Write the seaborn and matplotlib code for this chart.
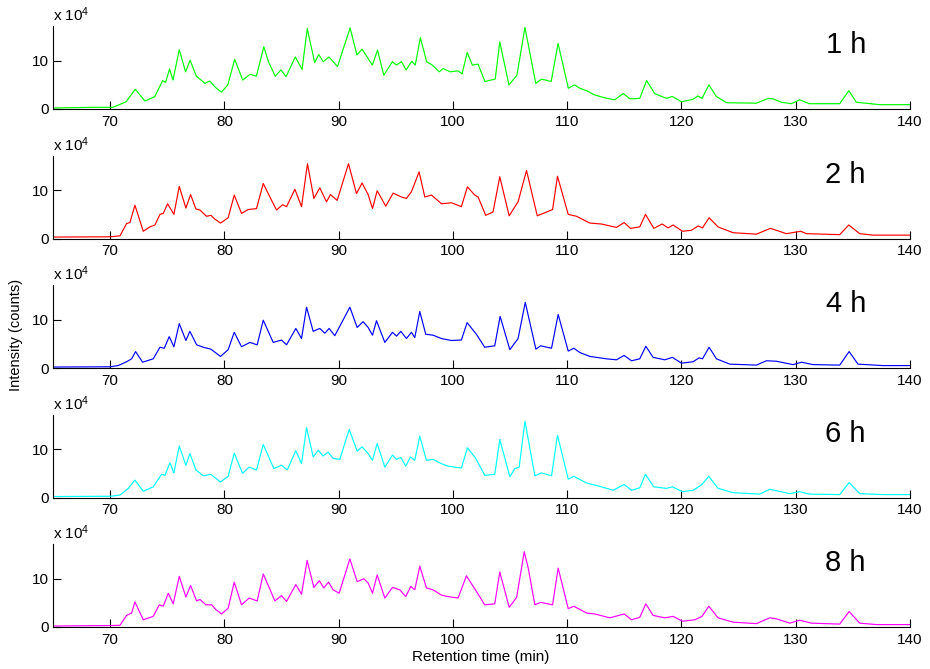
"""Stacked chromatograms (base peak intensity vs retention time) for five digestion times."""
import matplotlib
matplotlib.use("Agg")
import matplotlib.pyplot as plt
import pandas as pd
import seaborn as sns

# intensity values are in units of 1e4 counts
T_1H = [65, 68.5, 70.25, 71.4, 72.2, 73.05, 73.9, 74.6, 74.85, 75.2, 75.5, 76.05, 76.6, 77.0,
        77.55, 78.3, 78.7, 79.3, 79.75, 80.3, 80.9, 81.6, 82.25, 82.8, 83.45, 83.85, 84.45,
        84.95, 85.4, 86.2, 86.8, 87.25, 87.9, 88.25, 88.65, 89.15, 89.9, 91.0, 91.6, 92.05,
        92.95, 93.4, 93.95, 94.7, 95.05, 95.5, 95.9, 96.4, 96.7, 97.15, 97.7, 98.2, 98.8, 99.15,
        99.75, 100.45, 100.8, 101.25, 101.7, 102.2, 102.8, 103.7, 104.1, 104.9, 105.6, 106.3,
        107.25, 107.75, 108.6, 109.2, 110.1, 110.65, 111.1, 111.8, 112.3, 113.3, 114.15, 114.9,
        115.5, 116.35, 116.95, 117.65, 118.7, 119.2, 120.0, 121.0, 121.45, 121.8, 122.4, 123.05,
        123.95, 126.55, 127.6, 128.0, 128.75, 129.6, 130.35, 131.2, 133.85, 134.65, 135.3,
        137.35, 140]
I_1H = [0.2, 0.35, 0.35, 1.5, 4.1, 1.65, 2.55, 5.9, 5.5, 8.3, 6.0, 12.3, 7.7, 10.1,
        6.8, 5.3, 5.8, 4.3, 3.5, 5.0, 10.3, 6.0, 7.2, 6.8, 12.9, 9.8, 6.8,
        8.1, 6.7, 10.8, 8.2, 16.7, 9.6, 11.3, 9.8, 10.8, 8.8, 16.8, 11.2, 12.4,
        9.1, 12.2, 7.0, 9.8, 9.1, 9.8, 8.1, 9.9, 9.1, 14.8, 9.8, 9.1, 7.7, 8.4,
        7.7, 7.9, 7.3, 11.7, 9.1, 9.3, 5.7, 6.2, 13.9, 5.0, 7.0, 16.9,
        5.3, 6.2, 5.7, 13.6, 4.3, 5.0, 4.3, 3.7, 3.0, 2.3, 1.9, 3.2,
        2.1, 2.2, 5.9, 3.2, 2.2, 2.6, 1.5, 2.0, 2.7, 2.2, 5.0, 2.6,
        1.3, 1.2, 2.2, 2.1, 1.4, 1.1, 1.9, 1.1, 1.1, 3.8, 1.4,
        0.9, 0.9]

T_2H = [65, 70.0, 70.86, 71.44, 71.73, 72.17, 72.9, 73.48, 73.92, 74.36, 74.65, 75.03, 75.58,
        76.05, 76.63, 77.04, 77.51, 77.86, 78.44, 78.82, 79.17, 79.66, 80.33, 80.86, 81.5,
        82.08, 82.81, 83.4, 83.98, 84.56, 85.09, 85.44, 86.17, 86.75, 87.27, 87.83, 88.35,
        88.93, 89.28, 89.87, 90.86, 91.56, 92.05, 92.58, 92.96, 93.37, 94.12, 94.77, 95.5,
        95.93, 96.37, 97.04, 97.54, 98.12, 99.0, 99.87, 100.74, 101.27, 101.91, 102.2, 102.87,
        103.51, 104.1, 104.92, 105.7, 106.44, 107.38, 107.9, 108.72, 109.15, 110.09, 110.82,
        111.98, 113.0, 114.31, 114.98, 115.54, 116.35, 116.85, 117.58, 118.31, 118.83, 119.27,
        120.09, 120.87, 121.46, 121.84, 122.42, 123.2, 124.52, 126.56, 127.78, 128.31, 129.18,
        130.44, 130.93, 133.85, 134.64, 135.6, 136.76, 140]
I_2H = [0.3, 0.35, 0.55, 3.1, 3.3, 6.9, 1.5, 2.4, 2.8, 5.0, 5.2, 7.2, 5.0,
        10.8, 6.3, 9.1, 6.1, 5.9, 4.6, 4.8, 4.0, 3.2, 4.3, 9.0, 5.2,
        6.0, 6.2, 11.4, 8.6, 5.9, 7.0, 6.6, 10.2, 6.6, 15.5, 8.3, 10.5,
        7.6, 9.1, 7.9, 15.5, 9.3, 11.5, 9.1, 6.2, 9.9, 6.7, 9.4, 8.6,
        8.3, 9.7, 13.8, 8.6, 9.0, 7.2, 7.4, 6.6, 10.7, 9.0, 8.6, 4.8,
        5.5, 12.8, 4.7, 7.6, 14.1, 4.7, 5.2, 6.0, 12.9, 5.0, 4.6,
        3.2, 3.0, 2.3, 3.3, 2.1, 2.4, 5.0, 2.1, 3.0, 2.2, 2.8,
        1.5, 1.7, 2.6, 2.2, 4.3, 2.4, 1.2, 0.9, 2.1, 1.7, 1.0,
        1.5, 1.0, 0.8, 2.8, 1.0, 0.7, 0.7]

T_4H = [65, 70.0, 70.7, 71.44, 71.88, 72.23, 72.84, 73.77, 74.36, 74.74, 75.17, 75.58, 76.05,
        76.63, 76.98, 77.57, 78.15, 78.82, 79.66, 80.33, 80.86, 81.5, 82.23, 82.87, 83.4,
        84.27, 85.0, 85.44, 86.25, 86.75, 87.19, 87.77, 88.35, 88.79, 89.17, 89.66, 90.98,
        91.62, 92.14, 92.58, 92.96, 93.31, 94.04, 94.71, 95.06, 95.44, 95.93, 96.37, 96.66,
        97.1, 97.62, 98.26, 99.0, 99.87, 100.74, 101.24, 102.05, 102.78, 103.66, 104.13,
        104.98, 105.7, 106.33, 107.26, 107.67, 108.63, 109.21, 110.09, 110.58, 111.11, 111.98,
        113.44, 114.31, 114.98, 115.63, 116.35, 116.88, 117.52, 118.54, 119.21, 120.0, 121.02,
        121.54, 121.84, 122.42, 123.06, 124.23, 126.56, 127.43, 128.31, 129.77, 130.5, 131.52,
        133.85, 134.67, 135.45, 137.64, 140]
I_4H = [0.2, 0.25, 0.5, 1.3, 1.9, 3.4, 1.2, 1.9, 4.3, 4.1, 6.5, 4.4, 9.2,
        5.7, 7.6, 4.8, 4.3, 3.9, 2.4, 3.8, 7.4, 4.4, 5.3, 4.8, 9.9,
        5.3, 5.8, 4.8, 8.2, 6.1, 12.6, 7.6, 8.2, 7.2, 8.2, 6.7, 12.6,
        8.4, 9.6, 8.4, 6.8, 9.8, 5.3, 7.4, 6.6, 7.6, 6.1, 7.4, 6.3,
        11.7, 7.0, 6.8, 6.1, 5.7, 5.8, 9.4, 7.0, 4.3, 4.6, 10.7,
        3.8, 6.1, 13.6, 3.9, 4.6, 4.1, 11.1, 3.5, 4.1, 3.2, 2.4,
        1.9, 1.7, 2.6, 1.5, 1.9, 4.5, 2.2, 1.7, 2.2, 1.0, 1.3,
        2.1, 1.9, 4.3, 1.9, 0.8, 0.6, 1.5, 1.4, 0.7, 1.2, 0.7,
        0.6, 3.4, 0.8, 0.5, 0.5]

T_6H = [65, 70.0, 70.86, 71.59, 72.17, 72.9, 73.77, 74.5, 74.8, 75.23, 75.58, 76.05, 76.63,
        76.98, 77.51, 78.15, 78.82, 79.17, 79.66, 80.33, 80.86, 81.59, 82.17, 82.81, 83.4,
        84.33, 85.0, 85.5, 86.25, 86.75, 87.19, 87.77, 88.21, 88.64, 89.08, 89.52, 90.1,
        90.92, 91.62, 92.05, 92.58, 92.96, 93.37, 94.04, 94.71, 95.06, 95.44, 95.87, 96.28,
        96.66, 97.1, 97.68, 98.26, 99.0, 99.58, 100.74, 101.27, 102.0, 102.78, 103.66, 104.1,
        104.98, 105.42, 105.8, 106.3, 107.17, 107.75, 108.63, 109.15, 110.09, 110.58, 111.69,
        112.86, 114.02, 114.98, 115.63, 116.35, 116.85, 117.58, 118.69, 119.21, 120.09, 121.02,
        121.75, 122.39, 123.2, 124.52, 126.85, 127.72, 128.31, 129.47, 130.35, 131.2, 133.85,
        134.67, 135.6, 137.64, 140]
I_6H = [0.2, 0.25, 0.5, 1.9, 3.6, 1.3, 2.2, 4.8, 4.6, 7.2, 5.1, 10.7, 6.7,
        9.1, 5.7, 4.5, 4.8, 4.1, 3.2, 4.4, 9.2, 5.0, 6.3, 5.7, 11.0,
        6.0, 6.7, 5.7, 9.7, 7.0, 14.5, 8.4, 9.8, 8.6, 9.4, 8.1, 7.9,
        14.1, 9.6, 10.5, 9.1, 7.7, 11.2, 6.3, 8.8, 7.9, 8.3, 6.5, 8.4,
        7.7, 12.7, 7.7, 7.9, 7.0, 6.5, 6.1, 10.3, 8.1, 4.6, 4.8, 12.0,
        4.3, 6.0, 6.3, 15.8, 4.5, 5.1, 4.5, 12.9, 3.8, 4.4, 3.0,
        2.3, 1.5, 2.7, 1.5, 2.0, 4.8, 2.2, 1.9, 2.2, 1.2, 1.5,
        2.6, 4.4, 1.9, 1.0, 0.7, 1.7, 1.4, 0.8, 1.2, 0.7, 0.6,
        3.1, 0.8, 0.6, 0.6]

T_8H = [65, 70.0, 70.86, 71.44, 71.88, 72.17, 72.9, 73.77, 74.3, 74.65, 75.09, 75.52, 76.05,
        76.63, 77.04, 77.57, 77.86, 78.38, 78.88, 79.26, 79.75, 80.33, 80.86, 81.5, 82.17,
        82.87, 83.4, 84.42, 85.0, 85.44, 86.25, 86.75, 87.24, 87.83, 88.3, 88.7, 89.11, 89.52,
        90.04, 90.98, 91.62, 92.2, 92.58, 92.96, 93.37, 94.04, 94.71, 95.35, 95.87, 96.31,
        96.66, 97.1, 97.68, 98.26, 99.0, 99.58, 100.45, 101.18, 102.05, 102.78, 103.66, 104.1,
        104.92, 105.57, 106.24, 106.59, 107.17, 107.67, 108.72, 109.21, 110.09, 110.58, 111.69,
        112.42, 113.73, 114.98, 115.63, 116.35, 116.88, 117.52, 118.54, 119.27, 120.09, 121.17,
        121.8, 122.39, 123.2, 124.52, 126.56, 127.72, 128.31, 129.47, 130.35, 131.37, 133.85,
        134.67, 135.6, 137.06, 140]
I_8H = [0.2, 0.3, 0.35, 2.4, 2.9, 5.2, 1.5, 2.2, 4.6, 4.3, 7.0, 4.8, 10.5,
        6.2, 8.6, 5.4, 5.7, 4.6, 4.6, 3.6, 2.7, 3.9, 9.3, 4.6, 6.0,
        5.4, 11.0, 5.4, 6.5, 5.3, 8.8, 6.8, 13.8, 8.2, 9.6, 8.1, 9.3, 7.7,
        7.0, 14.1, 9.4, 10.0, 9.1, 7.0, 10.8, 6.0, 8.2, 7.7, 6.3, 8.4,
        7.7, 12.6, 8.1, 7.7, 6.6, 6.3, 6.0, 10.6, 7.4, 4.6, 4.8, 11.4,
        4.1, 6.1, 15.6, 12.2, 4.6, 5.1, 4.6, 12.2, 3.8, 4.3, 2.9,
        2.7, 1.9, 2.7, 1.5, 2.0, 4.8, 2.4, 1.9, 2.2, 1.2, 1.5,
        2.2, 4.3, 1.9, 1.0, 0.7, 1.9, 1.7, 0.8, 1.4, 0.8, 0.6,
        3.2, 0.8, 0.5, 0.5]

LABELS = ["1 h", "2 h", "4 h", "6 h", "8 h"]
COLORS = ["#00ff00", "#ff0000", "#0000ff", "#00ffff", "#ff00ff"]
X_TICKS = [70, 80, 90, 100, 110, 120, 130, 140]
Y_TICKS = [0, 10]

sns.set_style("ticks")
plt.rcParams["font.family"] = ["Liberation Sans", "DejaVu Sans"]
plt.rcParams["mathtext.default"] = "regular"
plt.rcParams["text.color"] = "black"
plt.rcParams["xtick.color"] = "black"
plt.rcParams["ytick.color"] = "black"

traces = [(T_1H, I_1H), (T_2H, I_2H), (T_4H, I_4H), (T_6H, I_6H), (T_8H, I_8H)]

fig = plt.figure(figsize=(9.3, 6.69), dpi=100)
W, H = 930, 669
for i, ((t, inten), label, color) in enumerate(zip(traces, LABELS, COLORS)):
    zero_px = 109 + 129.5 * i
    ax = fig.add_axes([53 / W, 1 - zero_px / H, 857 / W, 83 / H])
    df = pd.DataFrame({"time": t, "intensity": inten})
    sns.lineplot(data=df, x="time", y="intensity", color=color, lw=0.85,
                 estimator=None, sort=False, ax=ax)
    ax.set_xlim(65, 140)
    ax.set_ylim(0, 17.2)
    ax.set_xticks(X_TICKS)
    ax.set_yticks(Y_TICKS)
    ax.tick_params(direction="in", length=6, width=0.8, labelsize=11,
                   color="black", labelcolor="black")
    ax.tick_params(axis="x", pad=4)
    ax.tick_params(axis="y", pad=3)
    ax.set_xlabel("")
    ax.set_ylabel("")
    for side in ["top", "right"]:
        ax.spines[side].set_visible(False)
    for side in ["left", "bottom"]:
        ax.spines[side].set_color("black")
        ax.spines[side].set_linewidth(0.8)
    ax.text(0.0, 1.02, "x 10$^4$", transform=ax.transAxes, fontsize=11,
            ha="left", va="bottom", color="black")
    ax.text(0.925, 0.77, label, transform=ax.transAxes, fontsize=21,
            ha="center", va="center", color="black")

fig.text(0.0167, 0.499, "Intensity (counts)", rotation=90, fontsize=10.5,
         ha="center", va="center", color="black")
fig.text(480.5 / W, 1 - 657.5 / H, "Retention time (min)", fontsize=11,
         ha="center", va="center", color="black")

fig.savefig("out.png", dpi=100)
